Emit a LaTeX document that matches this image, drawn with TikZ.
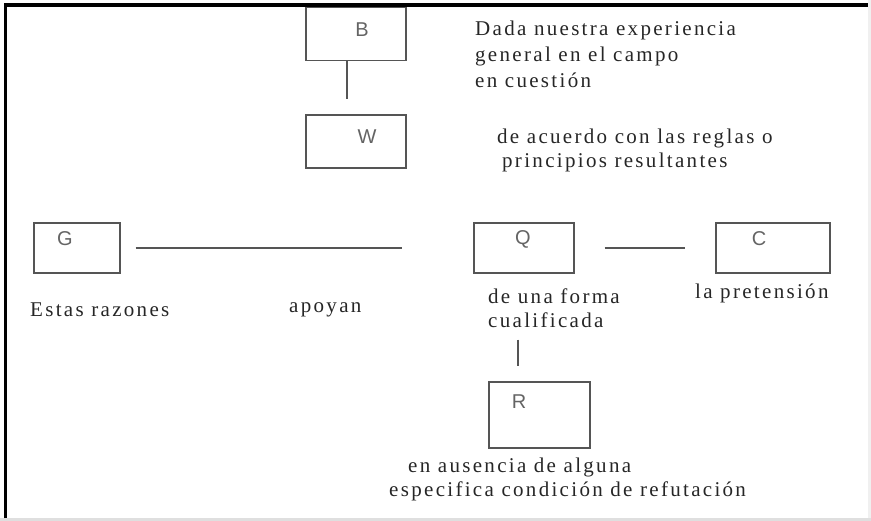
\documentclass[tikz,border=0pt]{standalone}
\usepackage{fontspec}
\setmainfont{Liberation Serif}[LetterSpace=11]
\setsansfont{Liberation Sans}
\usetikzlibrary{positioning}
\definecolor{boxgray}{RGB}{85,85,85}
\definecolor{lblgray}{RGB}{100,100,100}
\tikzset{
  box/.style={draw=boxgray, line width=1.4pt, inner sep=0pt},
  lbl/.style={font=\sffamily\fontsize{20}{20}\selectfont, text=lblgray, inner sep=0pt},
  txt/.style={font=\fontsize{21}{23}\selectfont, anchor=west, inner sep=0pt, text=black!85},
  conn/.style={draw=boxgray, line width=1.6pt}
}
\begin{document}
\begin{tikzpicture}[x=1pt, y=-1pt]
\useasboundingbox (0,0) rectangle (871,521);
\fill [gray!25] (0,518) rectangle (871,521);
\fill [gray!12] (868,0) rectangle (871,518);
\draw [line width=3.5pt] (5.5,518) -- (5.5,5) -- (868,5);
\node [box, minimum width=100pt, minimum height=53pt] (B) at (356,34) {};
\node [box, minimum width=100pt, minimum height=53pt] (W) at (356,141.5) {};
\node [box, minimum width=86pt, minimum height=50pt] (G) at (77,248) {};
\node [box, minimum width=100pt, minimum height=50pt] (Q) at (524,248) {};
\node [box, minimum width=114pt, minimum height=50pt] (C) at (773,248) {};
\node [box, minimum width=101pt, minimum height=66pt] (R) at (539.5,415) {};
\node [lbl] (lB) at (362,30) {B};
\node [lbl] (lW) at (367,137) {W};
\node [lbl] (lG) at (65,239) {G};
\node [lbl] (lQ) at (523,239) {Q};
\node [lbl] (lC) at (759,239) {C};
\node [lbl] (lR) at (519,402) {R};
\draw [conn, shorten >=15pt] ([xshift=-9pt]B.south) -- ([xshift=-9pt]W.north);
\draw [conn, shorten <=15pt, shorten >=71pt] (G.east) -- (Q.west);
\draw [conn, shorten <=30pt, shorten >=30pt] (Q.east) -- (C.west);
\draw [conn, shorten <=66pt, shorten >=15pt] ([xshift=-6pt]Q.south) -- ([xshift=-6pt]Q.south |- R.north);
\node [txt] (t1) at (475,30) {Dada nuestra experiencia};
\node [txt] (t2) at (475,56) {general en el campo};
\node [txt] (t3) at (475,80) {en cuestión};
\node [txt] (t4) at (497,138) {de acuerdo con las reglas o};
\node [txt] (t5) at (502,162) {principios resultantes};
\node [txt] (t6) at (30,310) {Estas razones};
\node [txt] (t7) at (289,310) {apoyan};
\node [txt] (t8) at (488,296) {de una forma};
\node [txt] (t9) at (488,320) {cualificada};
\node [txt] (t10) at (695,293) {la pretensión};
\node [txt] (t11) at (408,467) {en ausencia de alguna};
\node [txt] (t12) at (389,491) {especifica condición de refutación};
\end{tikzpicture}
\end{document}
